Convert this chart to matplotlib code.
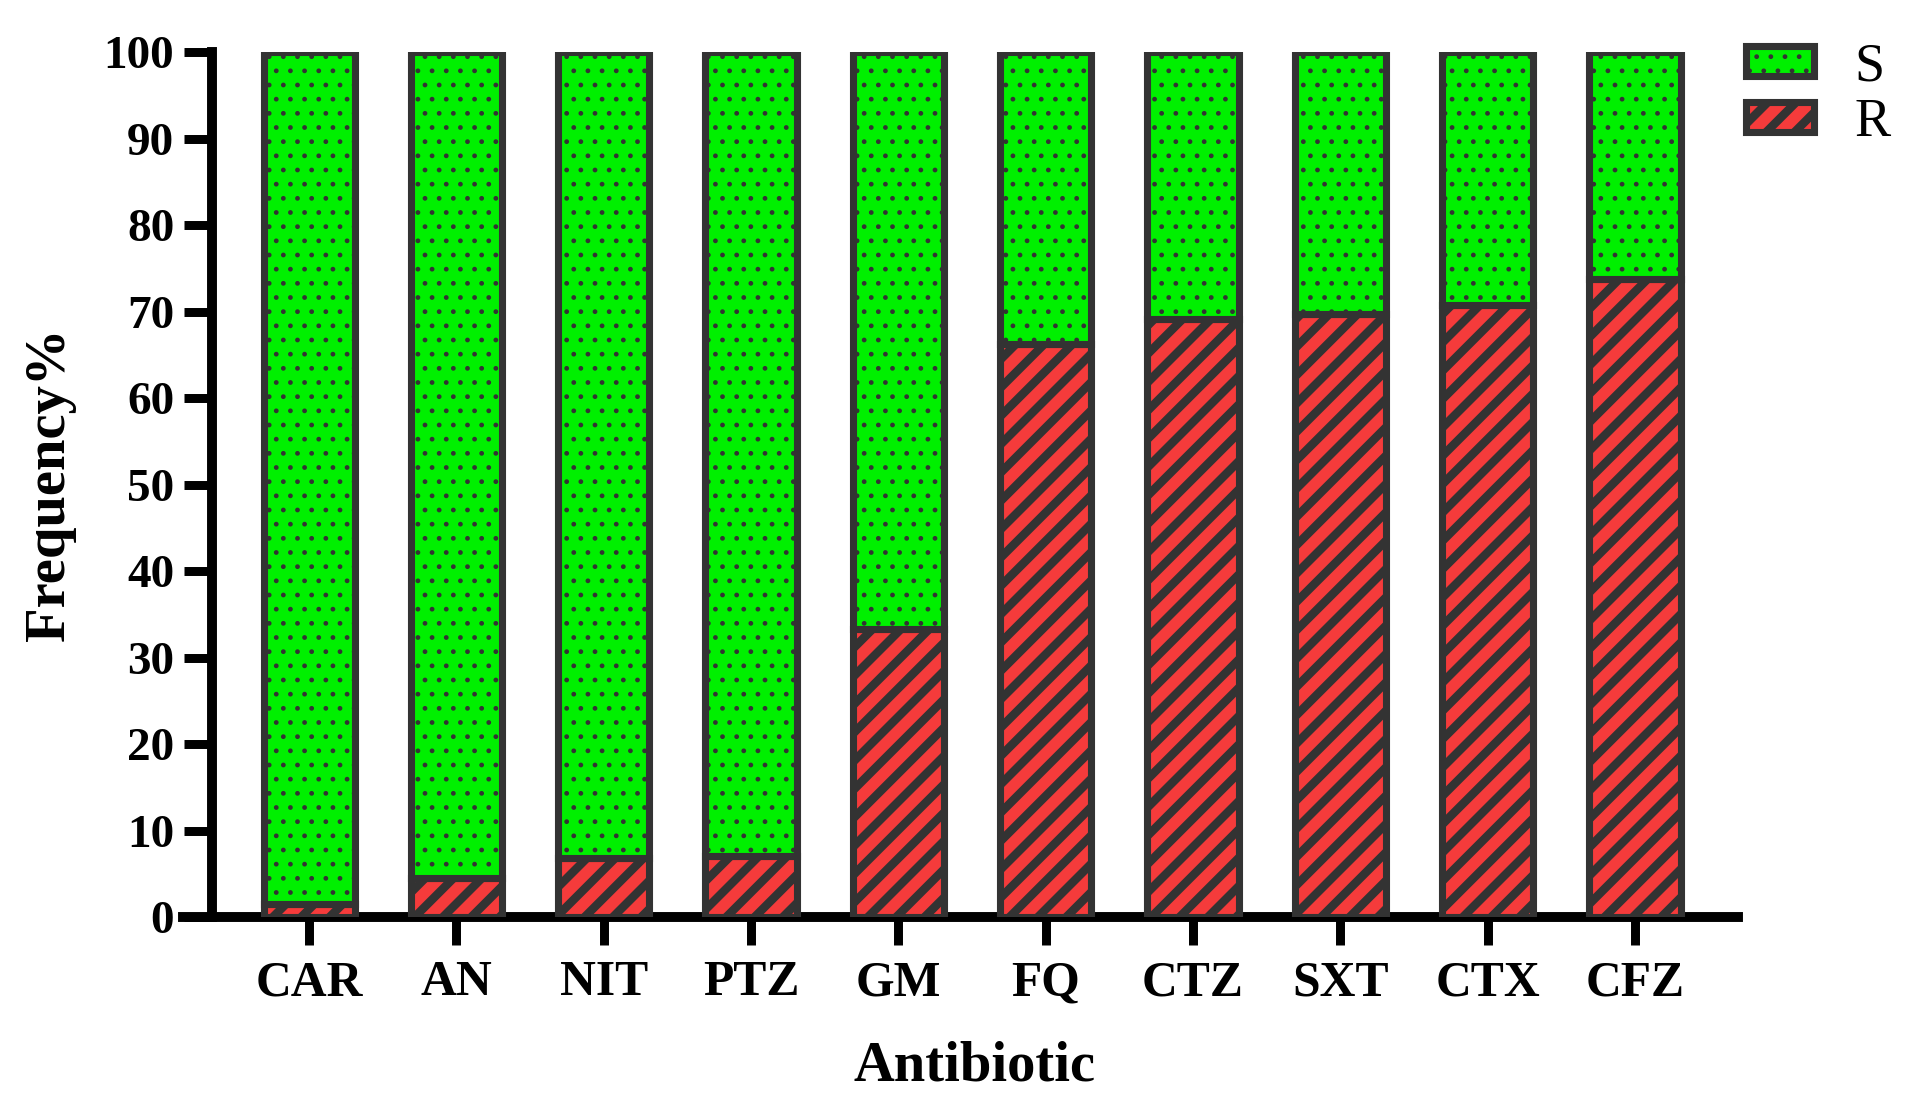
import numpy as np
import matplotlib.pyplot as plt
from matplotlib.patches import Patch

antibiotics = ["CAR", "AN", "NIT", "PTZ", "GM", "FQ", "CTZ", "SXT", "CTX", "CFZ"]
resistant = [1.5, 4.5, 6.8, 7.1, 33.3, 66.2, 69.1, 69.7, 70.8, 73.8]
sensitive = [100 - r for r in resistant]

plt.rcParams["font.family"] = ["Liberation Serif", "DejaVu Serif"]
plt.rcParams["font.weight"] = "bold"

DPI = 170
edge = "#333333"
green = "#00f000"
red = "#f53b3b"
stripe_lw = 3.6
dot_lw = 0.8


def fix_hatch(patch, lw):
    # hatch width per patch (newer mpl keeps it on the patch, older reads rc at draw)
    if hasattr(patch, "set_hatch_linewidth"):
        patch.set_hatch_linewidth(lw)
    orig = patch.draw

    def draw(renderer, _orig=orig, _lw=lw):
        with plt.rc_context({"hatch.linewidth": _lw}):
            _orig(renderer)
    patch.draw = draw


fig = plt.figure(figsize=(1913 / DPI, 1114 / DPI), dpi=DPI)
ax = fig.add_axes([0.1108, 0.1768, 0.7977, 0.7765])

x = np.arange(len(antibiotics))
w = 0.62
rbars = ax.bar(x, resistant, w, color=red, edgecolor=edge, linewidth=3,
               hatch="//", label="R", zorder=3)
sbars = ax.bar(x, sensitive, w, bottom=resistant, color=green, edgecolor=edge,
               linewidth=3, hatch="..", label="S", zorder=3)
for b in rbars:
    fix_hatch(b, stripe_lw)
for b in sbars:
    fix_hatch(b, dot_lw)

ax.set_xlim(-0.66, 9.70)
ax.set_ylim(0, 100)
ax.set_yticks(np.arange(0, 101, 10))
ax.set_xticks(x)
ax.set_xticklabels(antibiotics)
for s in ["top", "right"]:
    ax.spines[s].set_visible(False)
for s in ["left", "bottom"]:
    ax.spines[s].set_linewidth(4.2)
    ax.spines[s].set_capstyle("projecting")
ax.spines["bottom"].set_bounds(-0.855, 9.70)
ax.spines["bottom"].set_clip_on(False)
ax.tick_params(axis="both", width=3.8, length=12, labelsize=20, color="black")
ax.tick_params(axis="x", pad=6.3, labelsize=21)
ax.tick_params(axis="y", pad=4)
ax.set_xlabel("Antibiotic", fontsize=24, fontweight="bold", labelpad=14.4)
ax.set_ylabel("Frequency%", fontsize=24, fontweight="bold", labelpad=11.5)

handles = [Patch(facecolor=green, edgecolor=edge, linewidth=3, hatch="..", label="S"),
           Patch(facecolor=red, edgecolor=edge, linewidth=3, hatch="//", label="R")]
leg = fig.legend(handles=handles, loc="upper left",
                 bbox_to_anchor=(1746 / 1913, 1 - 42 / 1114),
                 frameon=False, prop={"size": 23, "weight": "normal"},
                 borderpad=0, borderaxespad=0,
                 handlelength=1.25, handleheight=0.47, handletextpad=0.75,
                 labelspacing=0.1)
for h, lw in zip(leg.legend_handles, [dot_lw, stripe_lw]):
    fix_hatch(h, lw)

fig.savefig("out.png", dpi=DPI)
